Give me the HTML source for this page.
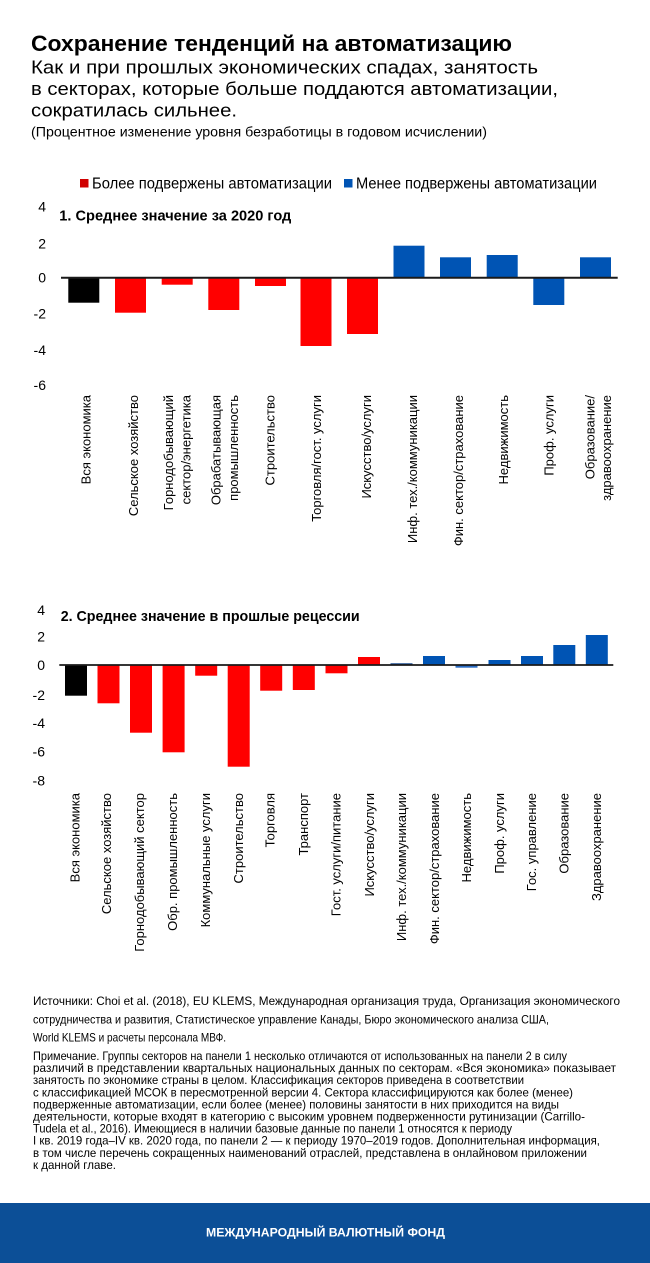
<!DOCTYPE html>
<html>
<head>
<meta charset="utf-8">
<style>
html,body{margin:0;padding:0;background:#fff;}
svg{display:block;}
</style>
</head>
<body>
<svg width="650" height="1263" viewBox="0 0 650 1263" xmlns="http://www.w3.org/2000/svg" font-family="'Liberation Sans', Arial, sans-serif">
<rect width="650" height="1263" fill="#fff"/>

<!-- Header -->
<text x="31" y="51" font-size="22" font-weight="bold" fill="#000" textLength="481" lengthAdjust="spacingAndGlyphs">Сохранение тенденций на автоматизацию</text>
<text x="31" y="73.5" font-size="18" fill="#000" textLength="507" lengthAdjust="spacingAndGlyphs">Как и при прошлых экономических спадах, занятость</text>
<text x="31" y="95" font-size="18" fill="#000" textLength="527" lengthAdjust="spacingAndGlyphs">в секторах, которые больше поддаются автоматизации,</text>
<text x="31" y="116.7" font-size="18" fill="#000" textLength="206" lengthAdjust="spacingAndGlyphs">сократилась сильнее.</text>
<text x="31" y="136.7" font-size="13.5" fill="#000" textLength="456" lengthAdjust="spacingAndGlyphs">(Процентное изменение уровня безработицы в годовом исчислении)</text>

<!-- Legend -->
<rect x="80" y="179" width="8.5" height="8.5" fill="#d00000"/>
<text x="92" y="188.3" font-size="15.5" fill="#000" textLength="240" lengthAdjust="spacingAndGlyphs">Более подвержены автоматизации</text>
<rect x="344" y="179" width="8.5" height="8.5" fill="#0054b4"/>
<text x="356" y="188.3" font-size="15.5" fill="#000" textLength="241" lengthAdjust="spacingAndGlyphs">Менее подвержены автоматизации</text>

<!-- Chart 1 -->
<g font-size="14" fill="#000" text-anchor="end">
<text x="46" y="211.7">4</text>
<text x="46" y="248.3">2</text>
<text x="46" y="282.7">0</text>
<text x="46" y="318.3">-2</text>
<text x="46" y="355">-4</text>
<text x="46" y="390">-6</text>
</g>
<text x="59.3" y="220.7" font-size="15" font-weight="bold" fill="#000" textLength="232" lengthAdjust="spacingAndGlyphs">1. Среднее значение за 2020 год</text>

<rect x="68.3" y="277.7" width="31" height="25" fill="#000"/>
<rect x="115" y="277.7" width="31" height="35" fill="#ff0000"/>
<rect x="161.7" y="277.7" width="31" height="7" fill="#ff0000"/>
<rect x="208.3" y="277.7" width="31" height="32.3" fill="#ff0000"/>
<rect x="255" y="277.7" width="31" height="8.3" fill="#ff0000"/>
<rect x="300.5" y="277.7" width="31" height="68.3" fill="#ff0000"/>
<rect x="347" y="277.7" width="31" height="56.3" fill="#ff0000"/>
<rect x="393.5" y="245.7" width="31" height="32" fill="#0054b4"/>
<rect x="440" y="257.3" width="31" height="20.4" fill="#0054b4"/>
<rect x="486.7" y="255" width="31" height="22.7" fill="#0054b4"/>
<rect x="533.3" y="277.7" width="31" height="27.3" fill="#0054b4"/>
<rect x="580" y="257.3" width="31" height="20.4" fill="#0054b4"/>
<line x1="61" y1="277.7" x2="617.7" y2="277.7" stroke="#1a1a1a" stroke-width="2"/>

<g font-size="13" fill="#000" text-anchor="end">
<text transform="translate(90.5,395) rotate(-90)">Вся экономика</text>
<text transform="translate(137.8,395) rotate(-90)">Сельское хозяйство</text>
<text transform="translate(172.8,395) rotate(-90)">Горнодобывающий</text>
<text transform="translate(190.5,395) rotate(-90)">сектор/энергетика</text>
<text transform="translate(220.5,395) rotate(-90)">Обрабатывающая</text>
<text transform="translate(238,395) rotate(-90)">промышленность</text>
<text transform="translate(274.5,395) rotate(-90)">Строительство</text>
<text transform="translate(321.2,395) rotate(-90)">Торговля/гост. услуги</text>
<text transform="translate(371.2,395) rotate(-90)">Искусство/услуги</text>
<text transform="translate(417.2,395) rotate(-90)">Инф. тех./коммуникации</text>
<text transform="translate(462.8,395) rotate(-90)">Фин. сектор/страхование</text>
<text transform="translate(507.8,395) rotate(-90)">Недвижимость</text>
<text transform="translate(553.5,395) rotate(-90)">Проф. услуги</text>
<text transform="translate(594.5,395) rotate(-90)">Образование/</text>
<text transform="translate(611.2,395) rotate(-90)">здравоохранение</text>
</g>

<!-- Chart 2 -->
<g font-size="14" fill="#000" text-anchor="end">
<text x="45" y="615">4</text>
<text x="45" y="641.7">2</text>
<text x="45" y="670">0</text>
<text x="45" y="700">-2</text>
<text x="45" y="728">-4</text>
<text x="45" y="756.7">-6</text>
<text x="45" y="785.5">-8</text>
</g>
<text x="60.7" y="621" font-size="15" font-weight="bold" fill="#000" textLength="299" lengthAdjust="spacingAndGlyphs">2. Среднее значение в прошлые рецессии</text>

<rect x="65" y="665" width="22" height="30.7" fill="#000"/>
<rect x="97.5" y="665" width="22" height="38.3" fill="#ff0000"/>
<rect x="130" y="665" width="22" height="67.7" fill="#ff0000"/>
<rect x="162.6" y="665" width="22" height="87.3" fill="#ff0000"/>
<rect x="195.2" y="665" width="22" height="10.7" fill="#ff0000"/>
<rect x="227.7" y="665" width="22" height="101.7" fill="#ff0000"/>
<rect x="260.2" y="665" width="22" height="25.7" fill="#ff0000"/>
<rect x="292.8" y="665" width="22" height="25" fill="#ff0000"/>
<rect x="325.5" y="665" width="22" height="8.3" fill="#ff0000"/>
<rect x="358" y="657" width="22" height="8" fill="#ff0000"/>
<rect x="390.5" y="663.3" width="22" height="1.7" fill="#0a3f86"/>
<rect x="423" y="656" width="22" height="9" fill="#0054b4"/>
<rect x="455.5" y="665" width="22" height="2.7" fill="#2a6cc4"/>
<rect x="488.5" y="660" width="22" height="5" fill="#0054b4"/>
<rect x="521" y="656" width="22" height="9" fill="#0054b4"/>
<rect x="553.3" y="645" width="22" height="20" fill="#0054b4"/>
<rect x="585.8" y="635" width="22" height="30" fill="#0054b4"/>
<line x1="59.3" y1="665" x2="613.3" y2="665" stroke="#1a1a1a" stroke-width="1.8"/>

<g font-size="13" fill="#000" text-anchor="end">
<text transform="translate(79.5,793) rotate(-90)">Вся экономика</text>
<text transform="translate(111.2,793) rotate(-90)">Сельское хозяйство</text>
<text transform="translate(143.8,793) rotate(-90)">Горнодобывающий сектор</text>
<text transform="translate(177.2,793) rotate(-90)">Обр. промышленность</text>
<text transform="translate(210.2,793) rotate(-90)">Коммунальные услуги</text>
<text transform="translate(242.8,793) rotate(-90)">Строительство</text>
<text transform="translate(274.5,793) rotate(-90)">Торговля</text>
<text transform="translate(307.8,793) rotate(-90)">Транспорт</text>
<text transform="translate(340.5,793) rotate(-90)">Гост. услуги/питание</text>
<text transform="translate(373.8,793) rotate(-90)">Искусство/услуги</text>
<text transform="translate(406.2,793) rotate(-90)">Инф. тех./коммуникации</text>
<text transform="translate(438.8,793) rotate(-90)">Фин. сектор/страхование</text>
<text transform="translate(471.2,793) rotate(-90)">Недвижимость</text>
<text transform="translate(503.8,793) rotate(-90)">Проф. услуги</text>
<text transform="translate(536.2,793) rotate(-90)">Гос. управление</text>
<text transform="translate(568.5,793) rotate(-90)">Образование</text>
<text transform="translate(601.2,793) rotate(-90)">Здравоохранение</text>
</g>

<!-- Notes -->
<g font-size="12" fill="#000">
<text x="33" y="1005" textLength="587" lengthAdjust="spacingAndGlyphs">Источники: Choi et al. (2018), EU KLEMS, Международная организация труда, Организация экономического</text>
<text x="33" y="1023.3" textLength="516" lengthAdjust="spacingAndGlyphs">сотрудничества и развития, Статистическое управление Канады, Бюро экономического анализа США,</text>
<text x="33" y="1041.7" textLength="193" lengthAdjust="spacingAndGlyphs">World KLEMS и расчеты персонала МВФ.</text>
<text x="33" y="1060" textLength="534" lengthAdjust="spacingAndGlyphs">Примечание. Группы секторов на панели 1 несколько отличаются от использованных на панели 2 в силу</text>
<text x="33" y="1072.1" textLength="583" lengthAdjust="spacingAndGlyphs">различий в представлении квартальных национальных данных по секторам. «Вся экономика» показывает</text>
<text x="33" y="1084.2" textLength="491" lengthAdjust="spacingAndGlyphs">занятость по экономике страны в целом. Классификация секторов приведена в соответствии</text>
<text x="33" y="1096.3" textLength="540" lengthAdjust="spacingAndGlyphs">с классификацией МСОК в пересмотренной версии 4. Сектора классифицируются как более (менее)</text>
<text x="33" y="1108.4" textLength="526" lengthAdjust="spacingAndGlyphs">подверженные автоматизации, если более (менее) половины занятости в них приходится на виды</text>
<text x="33" y="1120.5" textLength="552" lengthAdjust="spacingAndGlyphs">деятельности, которые входят в категорию с высоким уровнем подверженности рутинизации (Carrillo-</text>
<text x="33" y="1132.6" textLength="479" lengthAdjust="spacingAndGlyphs">Tudela et al., 2016). Имеющиеся в наличии базовые данные по панели 1 относятся к периоду</text>
<text x="33" y="1144.7" textLength="567" lengthAdjust="spacingAndGlyphs">I кв. 2019 года–IV кв. 2020 года, по панели 2 — к периоду 1970–2019 годов. Дополнительная информация,</text>
<text x="33" y="1156.8" textLength="554" lengthAdjust="spacingAndGlyphs">в том числе перечень сокращенных наименований отраслей, представлена в онлайновом приложении</text>
<text x="33" y="1168.9" textLength="83" lengthAdjust="spacingAndGlyphs">к данной главе.</text>
</g>

<!-- Banner -->
<rect x="0" y="1203" width="650" height="60" fill="#0c4f97"/>
<text x="206" y="1236.7" font-size="12" font-weight="bold" fill="#fff" textLength="239" lengthAdjust="spacingAndGlyphs">МЕЖДУНАРОДНЫЙ ВАЛЮТНЫЙ ФОНД</text>
</svg>
</body>
</html>
